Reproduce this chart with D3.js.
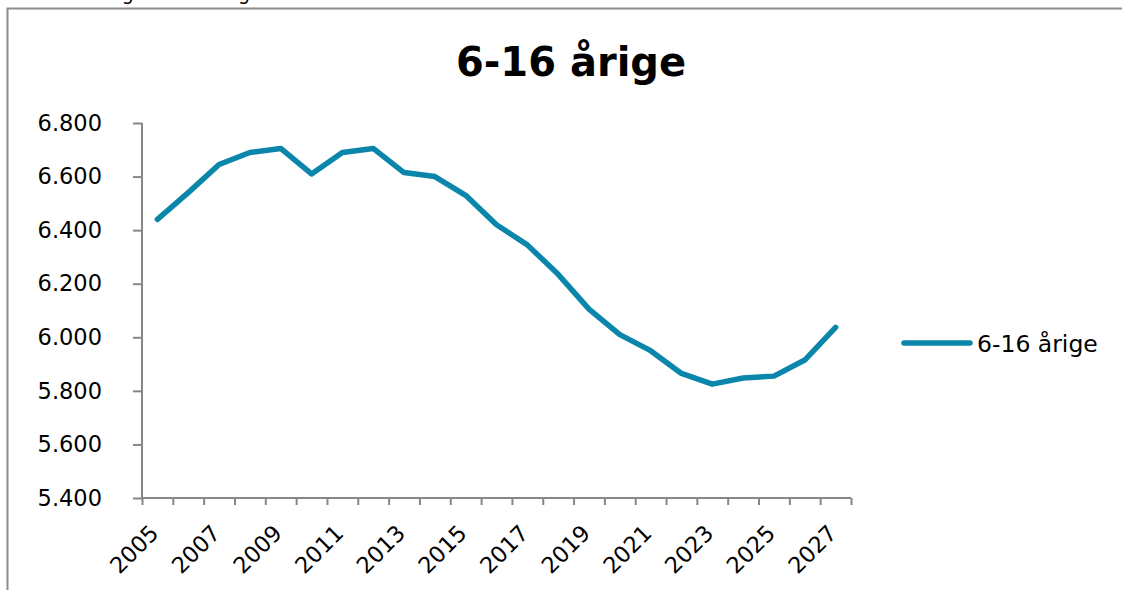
<!DOCTYPE html>
<html>
<head>
<meta charset="utf-8">
<script src="https://cdn.jsdelivr.net/npm/d3@7"></script>
<style>
  body { margin: 0; background: #fff; }
  svg { display: block; font-family: "DejaVu Sans", sans-serif; }
  .axis path, .axis line { stroke: #868686; stroke-width: 2; }
  .axis text { fill: #000; font-size: 22.5px; font-family: "DejaVu Sans", sans-serif; }
</style>
</head>
<body>
<svg id="chart" width="1122" height="590"></svg>
<script>
var years = d3.range(2005, 2028);
var values = [6440, 6540, 6645, 6690, 6705, 6610, 6690, 6705, 6615, 6600, 6530,
  6420, 6345, 6235, 6105, 6010, 5950, 5865, 5825, 5848, 5855, 5915, 6037];
var yTicks = [5400, 5600, 5800, 6000, 6200, 6400, 6600, 6800];
var labelYears = years.filter(function(d) { return (d - 2005) % 2 === 0; });
var seriesName = "6-16 årige";
var color = "#0a86ab";

var svg = d3.select("#chart"),
  margin = { top: 123, right: 271, bottom: 92, left: 142 },
  width = svg.attr("width") - margin.left - margin.right,
  height = svg.attr("height") - margin.top - margin.bottom;

// heading that sits mostly above the page edge
svg.append("text")
  .attr("x", 0)
  .attr("y", 0)
  .attr("font-size", "19px")
  .text("Fremskrivning af 6-16 årige");

// chart frame
svg.append("rect")
  .attr("x", 7.5).attr("y", 8.5)
  .attr("width", 1200).attr("height", 700)
  .attr("fill", "none")
  .attr("stroke", "#8c8c8c")
  .attr("stroke-width", 2);

svg.append("text")
  .attr("x", 571)
  .attr("y", 76)
  .attr("text-anchor", "middle")
  .attr("font-size", "40px")
  .attr("font-weight", "bold")
  .text(seriesName);

var g = svg.append("g").attr("transform", "translate(" + margin.left + "," + margin.top + ")");

var x = d3.scaleBand().domain(years).range([0, width]),
  xEdge = d3.scaleLinear().domain([0, years.length]).range([0, width]),
  y = d3.scaleLinear().domain([5400, 6800]).range([height, 0]);

var da = d3.formatLocale({ decimal: ",", thousands: ".", grouping: [3], currency: ["", " kr."] });

g.append("g")
  .attr("class", "axis axis--y")
  .call(d3.axisLeft(y).tickValues(yTicks).tickSize(9).tickPadding(31).tickFormat(da.format(",d")))
  .call(function(a) { a.select(".domain").attr("d", "M0,0V" + height); });

g.append("g")
  .attr("class", "axis axis--x")
  .attr("transform", "translate(0," + height + ")")
  .call(d3.axisBottom(xEdge).ticks(years.length).tickSize(7).tickFormat(""))
  .call(function(a) { a.select(".domain").attr("d", "M0,0H" + width); });

g.selectAll(".xlabel")
  .data(labelYears)
  .enter()
  .append("text")
  .attr("class", "xlabel")
  .attr("font-size", "22.5px")
  .attr("text-anchor", "end")
  .attr("dy", "0.35em")
  .attr("transform", function(d) {
    return "translate(" + (x(d) + x.bandwidth() / 2 - 3) + "," + (height + 31) + ") rotate(-45)";
  })
  .text(function(d) { return d; });

var line = d3.line()
  .x(function(d, i) { return x(years[i]) + x.bandwidth() / 2; })
  .y(function(d) { return y(d); })
  .curve(d3.curveLinear);

g.append("path")
  .datum(values)
  .attr("fill", "none")
  .attr("stroke", color)
  .attr("stroke-width", 5.5)
  .attr("stroke-linecap", "round")
  .attr("stroke-linejoin", "round")
  .attr("d", line);

// legend
var legend = svg.append("g").attr("transform", "translate(904,343)");
legend.append("line")
  .attr("x1", 0).attr("x2", 66)
  .attr("stroke", color)
  .attr("stroke-width", 5.5)
  .attr("stroke-linecap", "round");
legend.append("text")
  .attr("x", 73)
  .attr("y", 9)
  .attr("font-size", "23.5px")
  .text(seriesName);
</script>
</body>
</html>
